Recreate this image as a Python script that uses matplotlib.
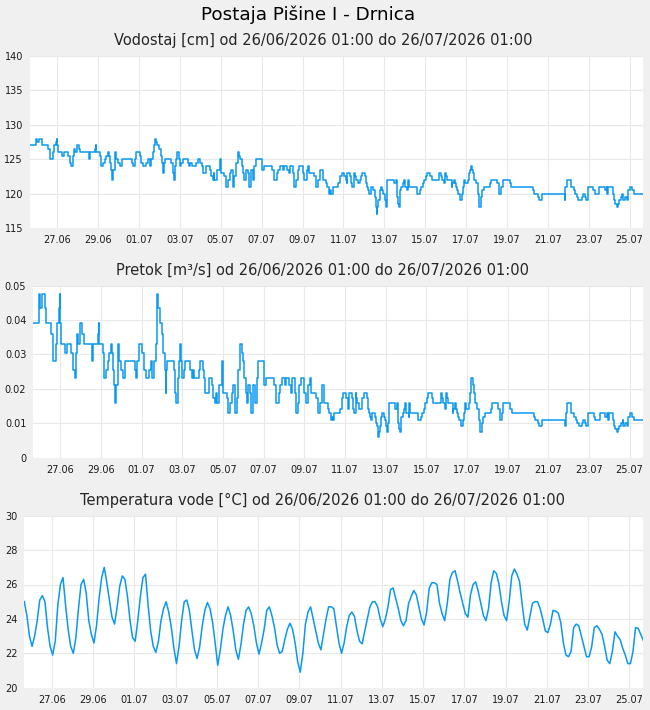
import matplotlib

matplotlib.use("Agg")
import matplotlib.pyplot as plt  # noqa: E402
import numpy as np  # noqa: E402

STATION = "Postaja Pišine I - Drnica"
PERIOD = "od 26/06/2026 01:00 do 26/07/2026 01:00"
PANEL_TITLES = ["Vodostaj [cm]", "Pretok [m³/s]", "Temperatura vode [°C]"]

# x axis is in days since the first sample, ticks every second day
SPAN_DAYS = 30.0
FIRST_TICK_DAY = 1.33
TICK_LABELS = ["27.06", "29.06", "01.07", "03.07", "05.07", "07.07", "09.07", "11.07",
               "13.07", "15.07", "17.07", "19.07", "21.07", "23.07", "25.07"]

# water level, (day, cm) at each change of the stepped record
level_changes = [
    (0.00, 127), (0.28, 128), (0.33, 127.5), (0.44, 128), (0.57, 127.5), (0.60, 127),
    (0.89, 126.5), (0.98, 125), (1.14, 126), (1.19, 127), (1.25, 127.5), (1.30, 128),
    (1.33, 127), (1.38, 126), (1.58, 125.5), (1.66, 126), (1.87, 125.5), (1.95, 124.5),
    (2.03, 124), (2.08, 125.5), (2.15, 126.5), (2.20, 126), (2.28, 127), (2.41, 126.5),
    (2.47, 126), (2.89, 125), (2.93, 126), (3.17, 126.5), (3.22, 127), (3.25, 126),
    (3.41, 125.5), (3.46, 124), (3.58, 124.5), (3.66, 125), (3.74, 125.5), (3.82, 126),
    (3.87, 125.5), (3.93, 124.5), (3.98, 123.5), (4.03, 122), (4.08, 123.5), (4.15, 125.5),
    (4.18, 126), (4.23, 125), (4.31, 124.5), (4.39, 124), (4.52, 125), (4.99, 124.5),
    (5.06, 124), (5.12, 125), (5.20, 126), (5.37, 125.5), (5.45, 124.5), (5.53, 124),
    (5.69, 124.5), (5.77, 125), (5.85, 124), (5.93, 125), (6.02, 126), (6.07, 127),
    (6.10, 128), (6.15, 127.5), (6.21, 127), (6.31, 126.5), (6.39, 125.5), (6.46, 124.5),
    (6.52, 123), (6.55, 124.5), (6.59, 125), (6.91, 124.5), (6.99, 123), (7.04, 122),
    (7.11, 124), (7.15, 125), (7.20, 126), (7.27, 125), (7.33, 124), (7.40, 124.5),
    (7.48, 125), (7.72, 124.5), (7.79, 124), (7.85, 124.5), (7.92, 124), (8.13, 124.5),
    (8.21, 125), (8.33, 124.5), (8.41, 124), (8.46, 123), (8.62, 124), (8.81, 123.5),
    (8.86, 122.5), (8.94, 122), (8.99, 123), (9.02, 122), (9.15, 123.5), (9.28, 125),
    (9.35, 123), (9.51, 122.5), (9.59, 121), (9.67, 122), (9.76, 123), (9.84, 123.5),
    (9.92, 121), (10.00, 122.5), (10.08, 124.5), (10.16, 126), (10.24, 125.5), (10.29, 125),
    (10.37, 124), (10.44, 123), (10.49, 122), (10.57, 123.5), (10.65, 123), (10.73, 121),
    (10.81, 123.5), (10.89, 122), (10.98, 124), (11.06, 125), (11.33, 123.5), (11.43, 124),
    (11.82, 123.5), (11.92, 122), (12.08, 123), (12.15, 123.5), (12.24, 124), (12.36, 123.5),
    (12.44, 124), (12.57, 123.5), (12.65, 123), (12.73, 124), (12.85, 123), (12.93, 121),
    (13.01, 122), (13.09, 123.5), (13.17, 124), (13.33, 123), (13.41, 122), (13.53, 123.5),
    (13.61, 124), (13.67, 123), (13.90, 122.5), (13.98, 121), (14.10, 122), (14.20, 123.5),
    (14.31, 122), (14.49, 121.5), (14.55, 121), (14.62, 120), (14.68, 120.5), (14.73, 120),
    (14.80, 121), (15.07, 121.5), (15.17, 122.5), (15.24, 123), (15.37, 122.5), (15.46, 122),
    (15.50, 121.5), (15.53, 123), (15.66, 122.5), (15.72, 121.5), (15.77, 121), (15.85, 123),
    (15.89, 122.5), (15.93, 122), (16.02, 121.5), (16.15, 122), (16.18, 122.5), (16.26, 123),
    (16.39, 122.5), (16.46, 121.5), (16.50, 121), (16.55, 120.5), (16.59, 120), (16.67, 121),
    (16.80, 120.5), (16.86, 119.5), (16.91, 119), (16.94, 118), (16.96, 117), (16.99, 118),
    (17.04, 119), (17.11, 120.5), (17.15, 121), (17.24, 120.5), (17.28, 120), (17.35, 119),
    (17.40, 118), (17.45, 119.5), (17.48, 122), (17.80, 121.5), (17.89, 122), (17.93, 119.5),
    (18.00, 118.5), (18.05, 118), (18.10, 120.5), (18.16, 121), (18.23, 121.5), (18.29, 122),
    (18.34, 121), (18.46, 120.5), (18.50, 122), (18.55, 121), (18.91, 120), (19.07, 120.5),
    (19.14, 121), (19.20, 121.5), (19.27, 122), (19.35, 122.5), (19.43, 123), (19.59, 122.5),
    (19.64, 122), (20.03, 123), (20.08, 122.5), (20.16, 122), (20.24, 121.5), (20.29, 123),
    (20.36, 122.5), (20.41, 122), (20.62, 121), (20.65, 121.5), (20.73, 122), (20.78, 121.5),
    (20.85, 121), (20.89, 120.5), (20.94, 120), (21.01, 119), (21.12, 120), (21.17, 121),
    (21.22, 122), (21.30, 121.5), (21.41, 122), (21.46, 123), (21.51, 123.5), (21.55, 124),
    (21.60, 123.5), (21.65, 123), (21.71, 122), (21.84, 121.5), (21.90, 120), (21.95, 119),
    (21.98, 118), (22.08, 119.5), (22.13, 120.5), (22.20, 121), (22.52, 121.5), (22.55, 122),
    (22.85, 121.5), (22.93, 120.5), (22.96, 120), (23.04, 121), (23.12, 122), (23.46, 121.5),
    (23.52, 121), (24.60, 120.5), (24.67, 120), (24.83, 119.5), (24.88, 119), (25.04, 120),
    (26.15, 119), (26.18, 121), (26.26, 122), (26.46, 121), (26.59, 120.5), (26.67, 120),
    (26.76, 119.5), (26.83, 119), (27.00, 119.5), (27.04, 120), (27.13, 119.5), (27.20, 119),
    (27.29, 121), (27.56, 120.5), (27.63, 120), (27.85, 121), (28.13, 120.5), (28.21, 121),
    (28.24, 120), (28.29, 121), (28.50, 120), (28.57, 119), (28.63, 118.5), (28.69, 118),
    (28.74, 118.5), (28.81, 119), (28.89, 119.5), (28.98, 120), (29.02, 119), (29.10, 119.5),
    (29.18, 119), (29.24, 120.5), (29.35, 121), (29.46, 120.5), (29.54, 120),
]

# rating table: level [cm] -> discharge [m3/s]
rating_level = [117, 117.5, 118, 118.5, 119, 119.5, 120, 120.5, 121, 121.5, 122, 122.5,
                123, 123.5, 124, 124.5, 125, 125.5, 126, 126.5, 127, 127.5, 128]
rating_flow = [0.0059, 0.0066, 0.0074, 0.0082, 0.0091, 0.0100, 0.0109, 0.0119, 0.0129,
               0.0143, 0.0158, 0.0173, 0.0189, 0.0210, 0.0231, 0.0255, 0.0281, 0.0305,
               0.0331, 0.0361, 0.0392, 0.0434, 0.0475]

# water temperature, one reading every 3 hours (8 per day)
temperature_3h = [
    25.0, 24.2, 23.0, 22.4, 23.0, 23.9, 25.1, 25.35,
    25.0, 23.5, 22.4, 21.9, 22.7, 24.8, 26.0, 26.4,
    24.8, 23.4, 22.4, 22.0, 22.9, 24.6, 26.0, 26.3,
    25.5, 23.9, 23.1, 22.6, 23.6, 25.2, 26.4, 27.0,
    26.1, 25.1, 24.1, 23.7, 24.7, 25.9, 26.5, 26.3,
    25.3, 23.9, 22.9, 22.7, 23.9, 25.3, 26.4, 26.6,
    24.8, 23.3, 22.4, 22.05, 22.7, 23.9, 24.6, 25.0,
    24.4, 23.5, 22.3, 21.4, 22.4, 23.9, 25.0, 25.1,
    24.5, 23.3, 22.2, 21.7, 22.4, 23.6, 24.5, 24.95,
    24.6, 23.8, 22.6, 21.3, 22.2, 23.4, 24.2, 24.7,
    24.2, 23.3, 22.2, 21.65, 22.5, 23.7, 24.5, 24.7,
    24.3, 23.6, 22.6, 21.95, 22.6, 23.4, 24.5, 24.7,
    24.2, 23.5, 22.5, 22.0, 22.1, 22.8, 23.4, 23.75,
    23.4, 22.6, 21.5, 20.9, 22.0, 23.7, 24.4, 24.7,
    24.0, 23.3, 22.6, 22.2, 23.1, 24.0, 24.7, 24.7,
    24.6, 23.6, 22.6, 22.0, 22.6, 23.55, 24.2, 24.4,
    24.15, 23.3, 22.7, 22.55, 23.3, 24.0, 24.7, 25.0,
    25.0, 24.7, 24.0, 23.55, 24.0, 24.7, 25.7, 25.8,
    25.2, 24.6, 23.9, 23.6, 23.9, 24.9, 25.3, 25.65,
    25.4, 24.7, 24.0, 23.65, 24.4, 25.8, 26.1, 26.1,
    26.0, 24.9, 24.3, 23.9, 24.9, 26.3, 26.7, 26.8,
    26.2, 25.5, 24.9, 24.3, 24.1, 25.4, 26.0, 26.15,
    25.6, 24.9, 24.2, 23.9, 24.6, 26.1, 26.8, 26.65,
    26.05, 25.0, 24.2, 23.9, 25.0, 26.5, 26.9, 26.6,
    26.2, 24.9, 23.7, 23.35, 24.1, 24.9, 25.0, 25.0,
    24.6, 24.0, 23.3, 23.2, 23.7, 24.5, 24.45, 24.35,
    23.8, 22.6, 21.9, 21.8, 22.1, 23.5, 23.7, 23.6,
    23.0, 22.4, 21.8, 21.8, 22.4, 23.5, 23.6, 23.4,
    23.1, 22.4, 21.6, 21.4, 22.1, 23.25, 23.0, 22.8,
    22.3, 21.9, 21.4, 21.4, 22.1, 23.5, 23.45, 23.1,
    22.75,
]

BG = "#f0f0f0"
GRID = "#e8e8e8"
LINE = "#0a98f0"
TEXT = "#1a1a1a"

plt.rcParams["font.family"] = ["DejaVu Sans"]

W, H = 650, 710
fig = plt.figure(figsize=(W / 100, H / 100), dpi=100, facecolor=BG)

# axes boxes in pixels: left, top, right, bottom
boxes = [(30, 56, 643.3, 228), (33.3, 285.7, 643.3, 457.7), (24.3, 515.7, 643.3, 687.7)]
axes = []
for left, top, right, bottom in boxes:
    ax = fig.add_axes([left / W, 1 - bottom / H, (right - left) / W, (bottom - top) / H])
    axes.append(ax)

# stepped series for level and the discharge from the rating table
level_days = [d for d, _ in level_changes] + [SPAN_DAYS]
level_cm = [v for _, v in level_changes]
level_cm = level_cm + [level_cm[-1]]
rating = dict(zip(rating_level, rating_flow))
flow = [rating[v] for v in level_cm]
temp_days = np.arange(len(temperature_3h)) * 0.125

axes[0].step(level_days, level_cm, where="post", color=LINE, lw=1.1)
axes[1].step(level_days, flow, where="post", color=LINE, lw=1.1)
axes[2].plot(temp_days, temperature_3h, color=LINE, lw=1.1)

axes[0].set_ylim(115, 140)
axes[0].set_yticks(np.arange(115, 141, 5))
axes[1].set_ylim(0, 0.05)
axes[1].set_yticks(np.arange(0, 0.051, 0.01))
axes[1].set_yticklabels(["0"] + [f"{v:.2f}" for v in np.arange(0.01, 0.051, 0.01)])
axes[2].set_ylim(20, 30)
axes[2].set_yticks(np.arange(20, 31, 2))

tick_days = FIRST_TICK_DAY + 2 * np.arange(len(TICK_LABELS))
for ax, (left, top, right, bottom), name in zip(axes, boxes, PANEL_TITLES):
    ax.set_facecolor("white")
    ax.set_xlim(0, SPAN_DAYS)
    ax.set_xticks(tick_days)
    ax.set_xticklabels(TICK_LABELS)
    for spine in ax.spines.values():
        spine.set_visible(False)
    ax.grid(True, color=GRID, lw=0.8)
    ax.set_axisbelow(True)
    ax.tick_params(length=0, pad=5, labelsize=7, labelcolor=TEXT)
    fig.text(323 / W, 1 - (top - 11) / H, f"{name} {PERIOD}", ha="center", va="baseline",
             fontsize=10.5, color="#262626")

fig.text(308 / W, 1 - 19.5 / H, STATION, ha="center", va="baseline", fontsize=13.2,
         color="black")

fig.savefig("out.png", dpi=100, facecolor=BG)
